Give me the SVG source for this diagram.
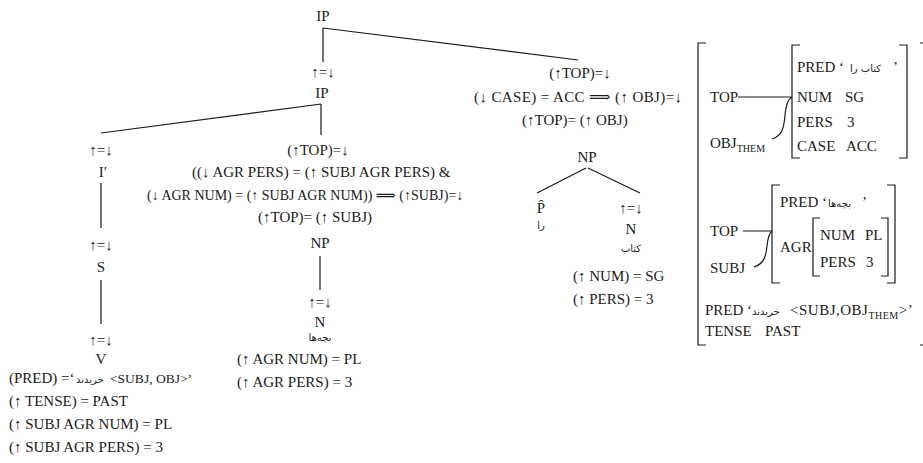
<svg xmlns="http://www.w3.org/2000/svg" width="923" height="463" viewBox="0 0 923 463">
<style>
text{font-family:"Liberation Serif","DejaVu Serif",serif;font-size:15px;fill:#1a1a1a}
.m{text-anchor:middle}
.fa{font-family:"DejaVu Sans","Noto Sans",sans-serif;font-size:10px}
.sb{font-size:10px}
.ln{stroke:#1a1a1a;stroke-width:1.2;fill:none}
</style>
<rect width="923" height="463" fill="#fff"/>
<g id="connectors" class="ln">
<path d="M323,28V62M323,28L578,60"/>
<path d="M321,104L101,133M321,104V135"/>
<path d="M101,183V228M101,280V324"/>
<path d="M320,256V290"/>
<path d="M586,168L537,193M588,168L640,193"/>
</g>
<g id="ip-root"><text class="m" x="323" y="21">IP</text></g>
<g id="ip-inner"><text class="m" x="323" y="77">↑=↓</text><text class="m" x="322" y="98">IP</text></g>
<g id="ibar"><text class="m" x="101" y="155">↑=↓</text><text class="m" x="103" y="177">I′</text></g>
<g id="s"><text class="m" x="101" y="250">↑=↓</text><text class="m" x="101" y="272">S</text></g>
<g id="v">
<text class="m" x="101" y="345">↑=↓</text><text class="m" x="101" y="364">V</text>
<text x="9" y="383">(PRED) =‘</text><text class="fa" x="76" y="383">خریدند</text><text x="110" y="383" style="font-size:13.5px">&lt;SUBJ, OBJ&gt;’</text>
<text x="9" y="406">(↑ TENSE) = PAST</text>
<text x="9" y="429">(↑ SUBJ AGR NUM) = PL</text>
<text x="9" y="452">(↑ SUBJ AGR PERS) = 3</text>
</g>
<g id="np-subj">
<text class="m" x="318" y="155">(↑TOP)=↓</text>
<text x="192" y="177">((↓ AGR PERS) = (↑ SUBJ AGR PERS) &amp;</text>
<text x="147" y="200" style="font-size:14px">(↓ AGR NUM) = (↑ SUBJ AGR NUM)) ⟹ (↑SUBJ)=↓</text>
<text x="258" y="222">(↑TOP)= (↑ SUBJ)</text>
<text class="m" x="320" y="248">NP</text>
</g>
<g id="n-subj">
<text class="m" x="320" y="307">↑=↓</text><text class="m" x="320" y="327">N</text>
<text class="m fa" x="320" y="341">بچه‌ها</text>
<text x="237" y="364">(↑ AGR NUM) = PL</text>
<text x="237" y="387">(↑ AGR PERS) = 3</text>
</g>
<g id="np-obj">
<text class="m" x="580" y="78">(↑TOP)=↓</text>
<text x="474" y="102" textLength="208" lengthAdjust="spacing">(↓ CASE) = ACC ⟹ (↑ OBJ)=↓</text>
<text x="522" y="125">(↑TOP)= (↑ OBJ)</text>
<text class="m" x="587" y="162">NP</text>
</g>
<g id="p-hat"><text class="m" x="541" y="213">P̂</text><text class="m fa" x="541" y="229">را</text></g>
<g id="n-obj">
<text class="m" x="631" y="213">↑=↓</text><text class="m" x="631" y="234">N</text>
<text class="m fa" x="631" y="252">کتاب</text>
<text x="573" y="281">(↑ NUM) = SG</text>
<text x="573" y="304">(↑ PERS) = 3</text>
</g>
<g id="f-structure">
<path class="ln" d="M706,43H698V345H706M920,43H926V345H920"/>
<path class="ln" d="M800,45H792V158H800M899,45H907V158H899"/>
<text x="710" y="102">TOP</text>
<path class="ln" d="M738,97H792M772,139C782,136 784,128 785,115C786,104 788,99 792,97"/>
<text x="710" y="148">OBJ<tspan class="sb" dy="4">THEM</tspan></text>
<text x="797" y="72">PRED ‘</text><text class="fa" x="850" y="72">کتاب را</text><text x="893" y="72">’</text>
<text x="797" y="102">NUM</text><text x="845" y="102">SG</text>
<text x="797" y="127">PERS</text><text x="847" y="127">3</text>
<text x="797" y="151">CASE</text><text x="846" y="151">ACC</text>
<path class="ln" d="M780,185H772V283H780M887,185H895V283H887"/>
<text x="780" y="207">PRED</text><text x="822" y="207">‘</text><text class="fa" x="828" y="207">بچه‌ها</text><text x="862" y="207">’</text>
<text x="710" y="236">TOP</text>
<path class="ln" d="M743,231H772M754,267C764,264 766,256 767,246C768,237 769,233 772,231"/>
<text x="710" y="273">SUBJ</text>
<text x="780" y="252">AGR</text>
<path class="ln" d="M820,218H813V276H820M881,218H888V276H881"/>
<text x="820" y="240">NUM</text><text x="865" y="240">PL</text>
<text x="820" y="267">PERS</text><text x="866" y="267">3</text>
<text x="705" y="315">PRED ‘</text><text class="fa" x="752" y="315">خریدند</text>
<text x="790" y="315" style="letter-spacing:0.5px">&lt;SUBJ,OBJ<tspan class="sb" dy="4">THEM</tspan><tspan dy="-4">&gt;’</tspan></text>
<text x="705" y="336">TENSE</text><text x="765" y="336">PAST</text>
</g>
</svg>
